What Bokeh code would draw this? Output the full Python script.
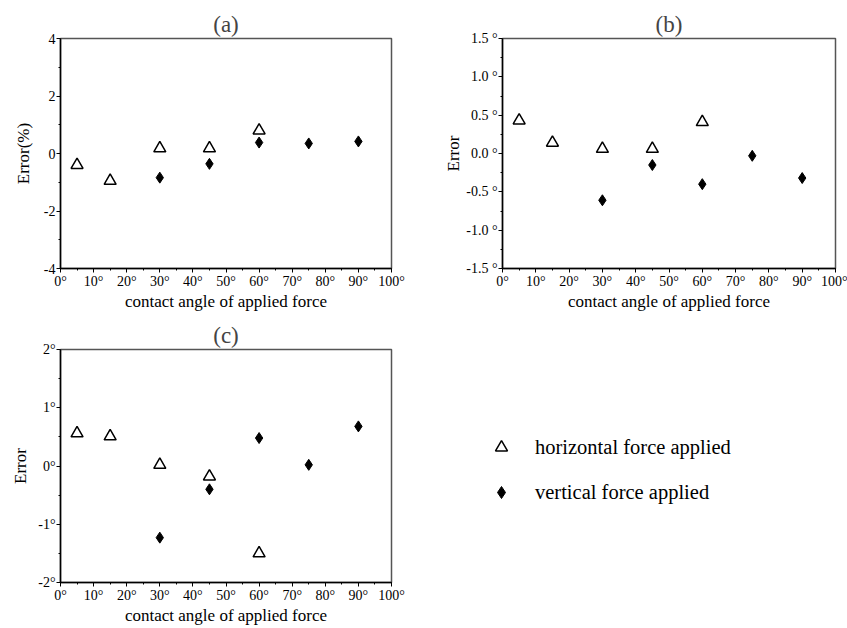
from bokeh.plotting import figure
from bokeh.layouts import column, row
from bokeh.models import FixedTicker, Range1d, Legend, LegendItem
from bokeh.embed import file_html
from bokeh.resources import INLINE

# ---------------- data ----------------
angles_h = [5, 15, 30, 45, 60]
angles_v = [30, 45, 60, 75, 90]

a_h = [-0.40, -0.95, 0.18, 0.18, 0.80]
a_v = [-0.84, -0.36, 0.38, 0.35, 0.42]

b_h = [0.43, 0.14, 0.06, 0.06, 0.41]
b_v = [-0.61, -0.15, -0.40, -0.03, -0.32]

c_h = [0.56, 0.51, 0.02, -0.18, -1.50]
c_v = [-1.23, -0.40, 0.48, 0.02, 0.68]

x_ticks = [0, 10, 20, 30, 40, 50, 60, 70, 80, 90, 100]
x_tick_labels = ["0°", "10°", "20°", "30°", "40°", "50°", "60°", "70°", "80°", "90°", "100°"]

a_yticks = [-4, -2, 0, 2, 4]
a_ylabels = ["-4", "-2", "0", "2", "4"]
b_yticks = [-1.5, -1.0, -0.5, 0.0, 0.5, 1.0, 1.5]
b_ylabels = ["-1.5 °", "-1.0 °", "-0.5 °", "0.0 °", "0.5 °", "1.0 °", "1.5 °"]
c_yticks = [-2, -1, 0, 1, 2]
c_ylabels = ["-2°", "-1°", "0°", "1°", "2°"]

titles = ["(a)", "(b)", "(c)"]
y_titles = ["Error(%)", "Error", "Error"]
x_title = "contact angle of applied force"
legend_labels = ["horizontal force applied", "vertical force applied"]

SERIF = "Liberation Serif"
H_STYLE = dict(marker="triangle", size=12, fill_color="white", line_color="black", line_width=1.5)
V_STYLE = dict(marker="diamond", size=11, fill_color="black", line_color="black", line_width=1)


def make_panel(title, ytitle, yticks, ylabels, ylo, yhi, xs_h, ys_h, xs_v, ys_v,
               width, height, bl, br, bt, bb, yminor, ylab_standoff):
    p = figure(width=width, height=height, output_backend="svg", toolbar_location=None,
               x_range=Range1d(0, 100), y_range=Range1d(ylo, yhi),
               min_border_left=bl, min_border_right=br, min_border_top=bt, min_border_bottom=bb,
               background_fill_color="white", border_fill_color="white")
    p.title.text = title
    p.title.align = "center"
    p.title.text_font = SERIF
    p.title.text_font_size = "23px"
    p.title.text_font_style = "normal"
    p.title.standoff = 3
    p.grid.visible = False
    p.outline_line_color = "#555555"
    p.outline_line_width = 1.5

    p.xaxis.ticker = FixedTicker(ticks=x_ticks, minor_ticks=list(range(0, 101, 5)))
    p.xaxis.major_label_overrides = dict(zip(x_ticks, x_tick_labels))
    p.yaxis.ticker = FixedTicker(ticks=yticks, minor_ticks=yminor)
    p.yaxis.major_label_overrides = dict(zip(yticks, ylabels))
    p.xaxis.axis_label = x_title
    p.yaxis.axis_label = ytitle
    for ax in (p.xaxis, p.yaxis):
        ax.axis_line_color = "black"
        ax.axis_line_width = 1.5
        ax.major_tick_in = 0
        ax.major_tick_out = 4
        ax.minor_tick_in = 0
        ax.minor_tick_out = 2
        ax.major_tick_line_color = "black"
        ax.minor_tick_line_color = "black"
        ax.major_label_text_font = SERIF
        ax.major_label_text_font_size = "14px"
        ax.major_label_text_color = "black"
        ax.major_label_standoff = 1
        ax.axis_label_text_font = SERIF
        ax.axis_label_text_font_size = "17px"
        ax.axis_label_text_font_style = "normal"
        ax.axis_label_text_color = "black"
        ax.axis_label_standoff = 0
    p.yaxis.axis_label_standoff = ylab_standoff

    p.scatter(xs_h, ys_h, **H_STYLE)
    p.scatter(xs_v, ys_v, **V_STYLE)
    return p


pa = make_panel(titles[0], y_titles[0], a_yticks, a_ylabels, -4, 4,
                angles_h, a_h, angles_v, a_v,
                420, 313, 60, 29, 37, 43, [-3, -1, 1, 3], 8)
pb = make_panel(titles[1], y_titles[1], b_yticks, b_ylabels, -1.5, 1.5,
                angles_h, b_h, angles_v, b_v,
                427, 313, 82, 12, 38, 42, [-1.25, -0.75, -0.25, 0.25, 0.75, 1.25], 0)
pc = make_panel(titles[2], y_titles[2], c_yticks, c_ylabels, -2, 2,
                angles_h, c_h, angles_v, c_v,
                420, 315, 60, 29, 36, 46, [-1.5, -0.5, 0.5, 1.5], 5)

# legend panel: its renderers hold panel (c)'s data, but its ranges lie outside that
# data, so only the legend glyphs show
pl = figure(width=427, height=315, output_backend="svg", toolbar_location=None,
            x_range=Range1d(200, 300), y_range=Range1d(200, 300),
            min_border_left=0, min_border_right=0, min_border_top=0, min_border_bottom=0)
pl.axis.visible = False
pl.grid.visible = False
pl.outline_line_color = None
lh = pl.scatter(angles_h, c_h, **H_STYLE)
lv = pl.scatter(angles_v, c_v, **V_STYLE)
legend = Legend(items=[LegendItem(label=legend_labels[0], renderers=[lh]),
                       LegendItem(label=legend_labels[1], renderers=[lv])],
                location=(66, 75), orientation="vertical",
                border_line_color=None, background_fill_alpha=0,
                padding=0, margin=0, spacing=15,
                glyph_width=30, glyph_height=30, label_height=30,
                label_standoff=19,
                label_text_font=SERIF, label_text_font_size="20.5px",
                label_text_color="black")
pl.add_layout(legend, "center")

layout = column(row(pa, pb), row(pc, pl))

open("out.html", "w").write(file_html(layout, INLINE))
